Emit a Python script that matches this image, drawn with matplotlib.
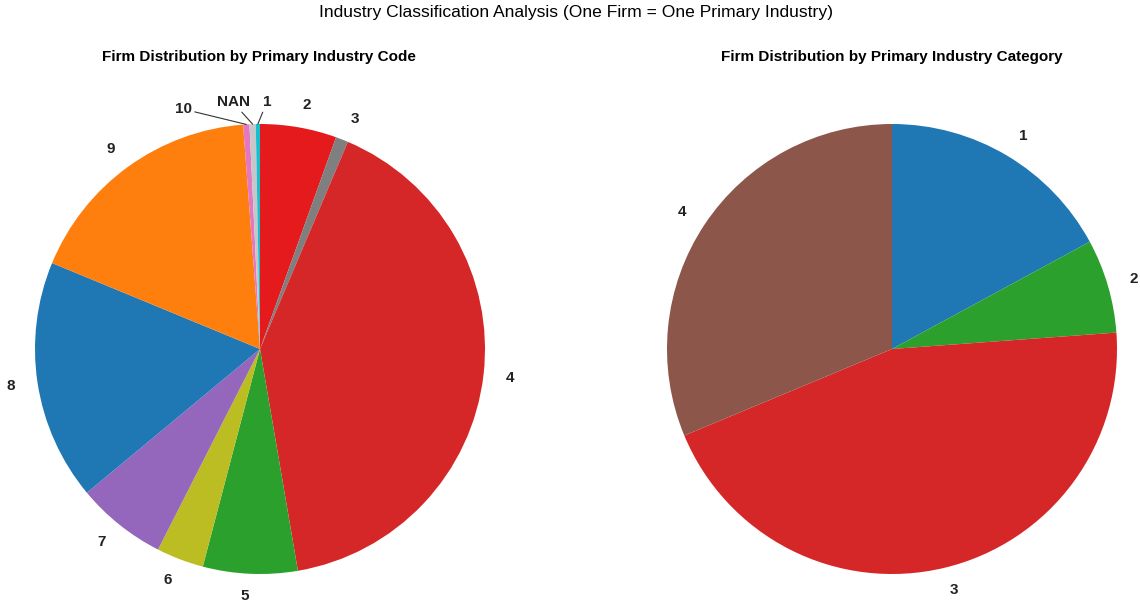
import matplotlib
matplotlib.use("Agg")
import matplotlib.pyplot as plt
import numpy as np

plt.rcParams["font.family"] = ["Liberation Sans", "DejaVu Sans"]

# left pie: primary industry code, clockwise from 12 o'clock
code_labels = ["2", "3", "4", "5", "6", "7", "8", "9", "10", "NAN", "1"]
code_shares = [5.5, 0.9, 41.0, 6.8, 3.4, 6.5, 17.3, 17.6, 0.45, 0.45, 0.3]
code_colors = ["#e41a1c", "#7f7f7f", "#d62728", "#2ca02c", "#bcbd22", "#9467bd",
               "#1f77b4", "#ff7f0e", "#e377c2", "#c7c7c7", "#17becf"]
small_codes = ["10", "NAN", "1"]

# right pie: primary industry category
cat_labels = ["1", "2", "3", "4"]
cat_shares = [17.1, 6.75, 44.9, 31.3]
cat_colors = ["#1f77b4", "#2ca02c", "#d62728", "#8c564b"]

W, H = 1140, 606
fig = plt.figure(figsize=(W / 100, H / 100), dpi=100)


def px_rect(x0, y0, size):
    return [x0 / W, 1 - (y0 + size) / H, size / W, size / H]


label_kw = dict(fontsize=11, fontweight="bold", color="#222222")

# ---- left pie
ax1 = fig.add_axes(px_rect(35, 124, 450))
shown = [lab if lab not in small_codes else "" for lab in code_labels]
ax1.pie(code_shares, labels=shown, colors=code_colors, startangle=90,
        counterclock=False, labeldistance=1.1, textprops=label_kw)
ax1.set_xlim(-1, 1)
ax1.set_ylim(-1, 1)

# leader lines for the tiny slices (text positions in data units)
small_text = {"10": (-0.34, 1.035), "NAN": (-0.12, 1.065), "1": (0.03, 1.065)}
total = sum(code_shares)
start = 90.0
for lab, val in zip(code_labels, code_shares):
    span = 360.0 * val / total
    mid = np.deg2rad(start - span / 2)
    start -= span
    if lab in small_codes:
        tx, ty = small_text[lab]
        ax1.annotate(lab, xy=(np.cos(mid), np.sin(mid)), xytext=(tx, ty),
                     ha="center", va="bottom", annotation_clip=False,
                     arrowprops=dict(arrowstyle="-", color="#333333", lw=0.8,
                                     shrinkA=0, shrinkB=0),
                     **label_kw)

# ---- right pie
ax2 = fig.add_axes(px_rect(667, 124, 450))
ax2.pie(cat_shares, labels=cat_labels, colors=cat_colors, startangle=90,
        counterclock=False, labeldistance=1.1, textprops=label_kw)
ax2.set_xlim(-1, 1)
ax2.set_ylim(-1, 1)

fig.text(259 / W, 1 - 57 / H, "Firm Distribution by Primary Industry Code",
         ha="center", va="center", fontsize=11, fontweight="bold")
fig.text(892 / W, 1 - 57 / H, "Firm Distribution by Primary Industry Category",
         ha="center", va="center", fontsize=11, fontweight="bold")
fig.text(576 / W, 1 - 12 / H,
         "Industry Classification Analysis (One Firm = One Primary Industry)",
         ha="center", va="center", fontsize=12.6)

fig.savefig("out.png", dpi=100)
